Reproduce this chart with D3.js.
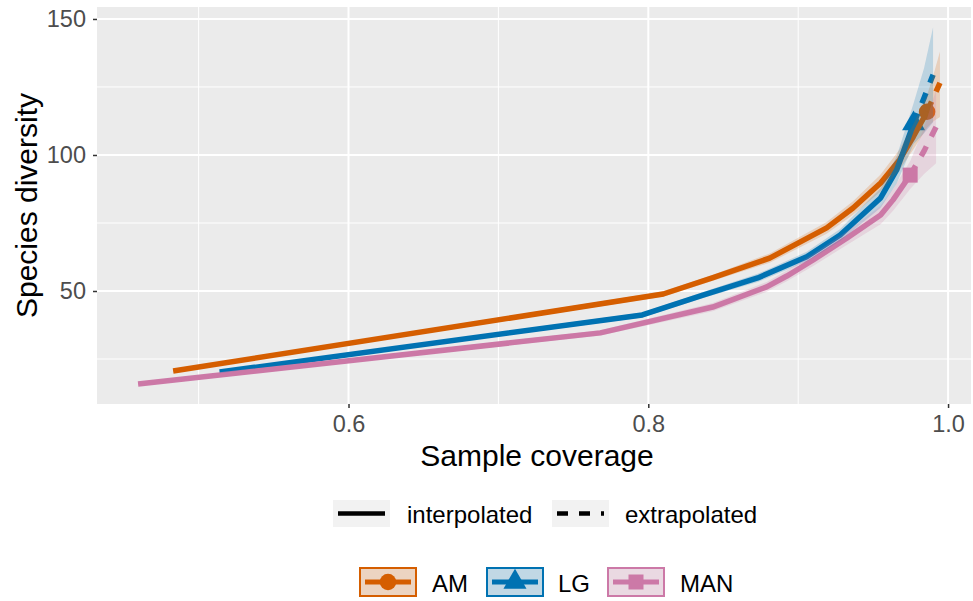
<!DOCTYPE html>
<html lang="en">
<head>
<meta charset="UTF-8">
<title>Species diversity vs sample coverage</title>
<script src="https://cdn.jsdelivr.net/npm/d3@7"></script>
<style>
    body { margin: 0; background: #fff; }
    svg { display: block; font-family: "Liberation Sans", Arial, Helvetica, sans-serif; }
</style>
</head>
<body>
<svg id="chart" width="973" height="601"></svg>
<script>
// Values (coverage, estimated diversity, lower / upper bound).
// The point at obsIndex is the observed sample: before it interpolated, after it extrapolated.
const assemblages = ["AM", "LG", "MAN"];
const colors = ["#D55E00", "#0072B2", "#CC79A7"];

const amCoverage = [0.483, 0.810, 0.8432, 0.881, 0.919, 0.9366, 0.955, 0.9676, 0.9768, 0.986, 0.9905, 0.9946];
const amDiversity = [20.6, 48.9, 54.9, 62.1, 73.2, 80.5, 89.7, 98.2, 106.7, 115.9, 121.5, 126.5];
const amLower = [20.2, 47.9, 53.8, 60.4, 71.0, 78, 86.6, 94.5, 102, 110, 112.5, 114];
const amUpper = [21.0, 49.9, 56.0, 63.8, 75.4, 83, 92.8, 102, 111.4, 122, 130, 138];

const lgCoverage = [0.514, 0.796, 0.8365, 0.873, 0.9057, 0.928, 0.955, 0.9657, 0.977, 0.984, 0.990];
const lgDiversity = [20.2, 41.2, 48.5, 54.8, 62.6, 70.6, 84.2, 94.5, 111.5, 121, 129.5];
const lgLower = [19.8, 40.3, 47.4, 53.3, 60.8, 68.4, 80.6, 89.5, 104, 108, 112];
const lgUpper = [20.6, 42.1, 49.6, 56.3, 64.4, 72.8, 87.8, 99.5, 119, 132, 147];

const manCoverage = [0.4596, 0.768, 0.843, 0.879, 0.8924, 0.910, 0.9324, 0.955, 0.9633, 0.9747, 0.984, 0.992];
const manDiversity = [15.8, 34.6, 44.1, 51.5, 55.5, 61.4, 69.4, 77.9, 83.5, 92.6, 101.5, 110.3];
const manLower = [15.4, 33.6, 42.6, 49.7, 53.6, 59.2, 66.9, 74.5, 79.5, 87.5, 93, 97];
const manUpper = [16.2, 35.6, 45.6, 53.3, 57.5, 63.6, 71.9, 81.3, 87.5, 97.7, 110, 124];

const obsIndex = [9, 8, 9];

const xMajorTicks = [0.6, 0.8, 1.0];
const xMinorTicks = [0.5, 0.7, 0.9];
const yMajorTicks = [50, 100, 150];
const yMinorTicks = [25, 75, 125];
const methodLabels = ["interpolated", "extrapolated"];

// build one record per assemblage
const seriesData = [
    [amCoverage, amDiversity, amLower, amUpper],
    [lgCoverage, lgDiversity, lgLower, lgUpper],
    [manCoverage, manDiversity, manLower, manUpper]
].map((s, i) => ({
    name: assemblages[i],
    color: colors[i],
    obs: obsIndex[i],
    points: s[0].map((c, j) => ({ x: c, y: s[1][j], lo: s[2][j], hi: s[3][j] }))
}));

const svg = d3.select("#chart");
const panel = { left: 97, right: 971, top: 7, bottom: 404 };

const x = d3.scaleLinear().domain([0.4322, 1.0153]).range([panel.left, panel.right]);
const y = d3.scaleLinear().domain([8.46, 154.4]).range([panel.bottom, panel.top]);

// panel background + grid
svg.append("rect")
    .attr("x", panel.left).attr("y", panel.top)
    .attr("width", panel.right - panel.left).attr("height", panel.bottom - panel.top)
    .attr("fill", "#EBEBEB");

const grid = svg.append("g");
grid.selectAll(".xminor").data(xMinorTicks).enter().append("line")
    .attr("x1", d => x(d)).attr("x2", d => x(d))
    .attr("y1", panel.top).attr("y2", panel.bottom)
    .attr("stroke", "#fff").attr("stroke-width", 1);
grid.selectAll(".yminor").data(yMinorTicks).enter().append("line")
    .attr("y1", d => y(d)).attr("y2", d => y(d))
    .attr("x1", panel.left).attr("x2", panel.right)
    .attr("stroke", "#fff").attr("stroke-width", 1);
grid.selectAll(".xmajor").data(xMajorTicks).enter().append("line")
    .attr("x1", d => x(d)).attr("x2", d => x(d))
    .attr("y1", panel.top).attr("y2", panel.bottom)
    .attr("stroke", "#fff").attr("stroke-width", 2);
grid.selectAll(".ymajor").data(yMajorTicks).enter().append("line")
    .attr("y1", d => y(d)).attr("y2", d => y(d))
    .attr("x1", panel.left).attr("x2", panel.right)
    .attr("stroke", "#fff").attr("stroke-width", 2);

// axes
const xAxis = svg.append("g")
    .attr("transform", `translate(0,${panel.bottom})`)
    .call(d3.axisBottom(x).tickValues(xMajorTicks).tickFormat(d3.format(".1f")).tickSize(4).tickPadding(7));
const yAxis = svg.append("g")
    .attr("transform", `translate(${panel.left},0)`)
    .call(d3.axisLeft(y).tickValues(yMajorTicks).tickFormat(d3.format("d")).tickSize(4).tickPadding(7));

[xAxis, yAxis].forEach(a => {
    a.select(".domain").remove();
    a.selectAll(".tick line").attr("stroke", "#333").attr("stroke-width", 1.5);
    a.selectAll(".tick text").attr("fill", "#4D4D4D").style("font-size", "23.5px")
        .style("font-family", "'Liberation Sans', Arial, sans-serif");
});

svg.append("text")
    .attr("x", (panel.left + panel.right) / 2 + 3).attr("y", 466)
    .attr("text-anchor", "middle").style("font-size", "30px").attr("fill", "#000")
    .text("Sample coverage");

svg.append("text")
    .attr("transform", `translate(37,${(panel.top + panel.bottom) / 2}) rotate(-90)`)
    .attr("text-anchor", "middle").style("font-size", "30px").attr("fill", "#000")
    .text("Species diversity");

// plotting
const symbols = [d3.symbolCircle, d3.symbolTriangle, d3.symbolSquare];
const symbolSizes = [215, 230, 225];

const line = d3.line().x(d => x(d.x)).y(d => y(d.y));
const area = d3.area().x(d => x(d.x)).y0(d => y(d.lo)).y1(d => y(d.hi));

const plot = svg.append("g");

// observed points
seriesData.forEach((s, i) => {
    const p = s.points[s.obs];
    plot.append("path")
        .attr("d", d3.symbol().type(symbols[i]).size(symbolSizes[i])())
        .attr("transform", `translate(${x(p.x)},${y(p.y)})`)
        .attr("fill", s.color);
});

// interpolated + extrapolated lines
seriesData.forEach(s => {
    plot.append("path")
        .datum(s.points.slice(0, s.obs + 1))
        .attr("d", line)
        .attr("fill", "none").attr("stroke", s.color).attr("stroke-width", 5.5)
        .attr("stroke-linejoin", "round");
    plot.append("path")
        .datum(s.points.slice(s.obs))
        .attr("d", line)
        .attr("fill", "none").attr("stroke", s.color).attr("stroke-width", 5.5)
        .attr("stroke-dasharray", "11,11");
});

// confidence ribbons
seriesData.forEach(s => {
    plot.append("path")
        .datum(s.points)
        .attr("d", area)
        .attr("fill", s.color).attr("fill-opacity", 0.2);
});

// legend: line type
const legend1 = svg.append("g");
const keyW = 57, keyH = 27;
const lt = [{ x: 333, tx: 407, dash: null }, { x: 552, tx: 625, dash: "11,11" }];
lt.forEach((k, i) => {
    legend1.append("rect").attr("x", k.x).attr("y", 500).attr("width", keyW).attr("height", keyH).attr("fill", "#F2F2F2");
    legend1.append("line")
        .attr("x1", k.x + 5).attr("x2", k.x + keyW - 5)
        .attr("y1", 500 + keyH / 2).attr("y2", 500 + keyH / 2)
        .attr("stroke", "#000").attr("stroke-width", 4.5)
        .attr("stroke-dasharray", k.dash);
    legend1.append("text").attr("x", k.tx).attr("y", 523)
        .style("font-size", "24px").attr("fill", "#000").text(methodLabels[i]);
});

// legend: assemblages
const legend2 = svg.append("g");
const keyX = [360, 487, 608];
const textX = [432, 558, 680];
seriesData.forEach((s, i) => {
    const kx = keyX[i], ky = 568, kw = 56, kh = 28;
    legend2.append("rect").attr("x", kx).attr("y", ky).attr("width", kw).attr("height", kh).attr("fill", "#F2F2F2");
    legend2.append("rect").attr("x", kx).attr("y", ky).attr("width", kw).attr("height", kh)
        .attr("fill", s.color).attr("fill-opacity", 0.2)
        .attr("stroke", s.color).attr("stroke-width", 2);
    legend2.append("line")
        .attr("x1", kx + 5).attr("x2", kx + kw - 5)
        .attr("y1", ky + kh / 2).attr("y2", ky + kh / 2)
        .attr("stroke", s.color).attr("stroke-width", 5);
    legend2.append("path")
        .attr("d", d3.symbol().type(symbols[i]).size(symbolSizes[i])())
        .attr("transform", `translate(${kx + kw / 2},${ky + kh / 2})`)
        .attr("fill", s.color);
    legend2.append("text").attr("x", textX[i]).attr("y", 591.5)
        .style("font-size", "24px").attr("fill", "#000").text(s.name);
});
</script>
</body>
</html>
